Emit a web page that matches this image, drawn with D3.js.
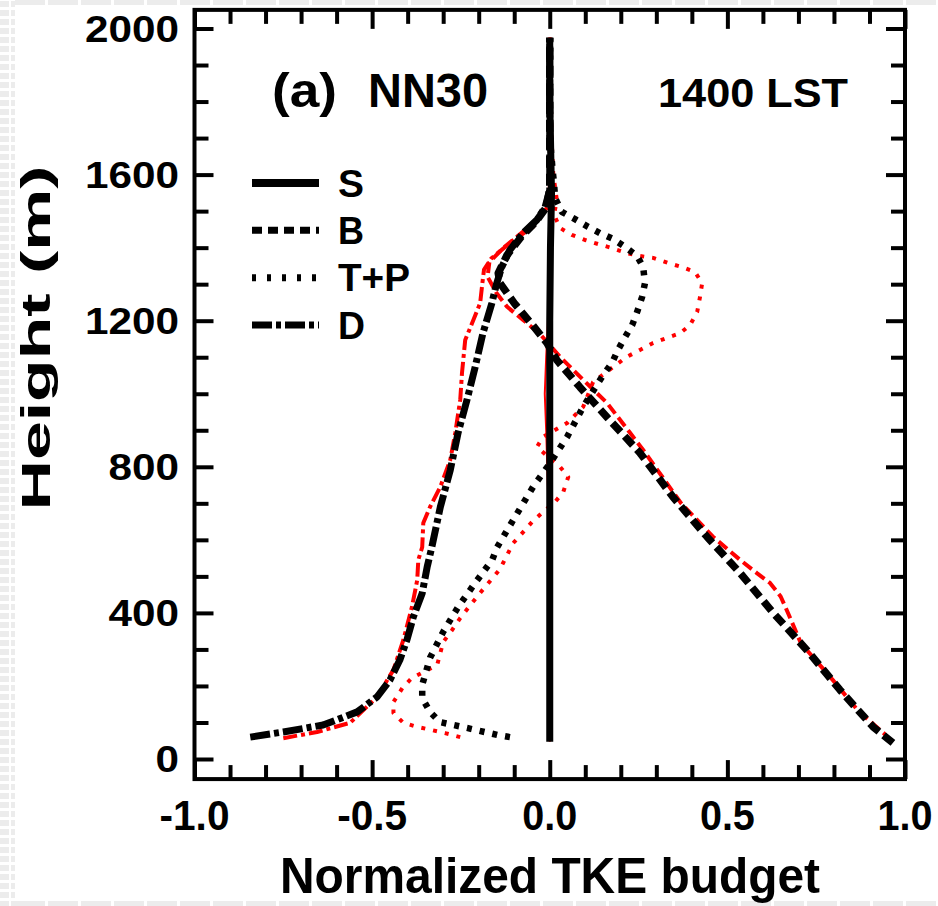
<!DOCTYPE html>
<html>
<head>
<meta charset="utf-8">
<script src="https://cdn.jsdelivr.net/npm/d3@7"></script>
<style>
  html, body { margin: 0; padding: 0; background: #fff; }
  svg { display: block; font-family: "Liberation Sans", Arial, Helvetica, sans-serif; font-weight: bold; }
</style>
</head>
<body>
<svg id="chart" width="938" height="906"></svg>
<script>
// ---- Axis ticks and labels ----
const xTickValues = [-1.0, -0.5, 0.0, 0.5, 1.0];
const xTickLabels = ["-1.0", "-0.5", "0.0", "0.5", "1.0"];
const yTickValues = [0, 400, 800, 1200, 1600, 2000];
const yTickLabels = ["0", "400", "800", "1200", "1600", "2000"];

// ---- Legend entries ----
const legendNames = ["S", "B", "T+P", "D"];

// ---- Profiles (normalized TKE budget terms vs height in m) ----
// Black: reference run; red: comparison run
const hS_black = [47, 300, 600, 900, 1200, 1400, 1500, 1550, 1600, 1700, 1800, 1975];
const vS_black = [0.0, 0.0, 0.0, 0.0, 0.0, 0.002, 0.004, 0.005, 0.004, 0.002, 0.0, 0.0];

const hS_red = [47, 400, 700, 900, 1000, 1100, 1300, 1500, 1560, 1650, 1800, 1975];
const vS_red = [0.0, 0.0, -0.004, -0.01, -0.014, -0.01, 0.0, 0.006, 0.01, 0.006, 0.002, 0.0];

const hB_black = [44, 88, 189, 298, 400, 509, 608, 717, 838, 936, 1018, 1092, 1139, 1190, 1248, 1303, 1330, 1380, 1430, 1470, 1510, 1560, 1700, 1975];
const vB_black = [0.966, 0.910, 0.817, 0.724, 0.629, 0.536, 0.443, 0.347, 0.254, 0.161, 0.085, 0.020, -0.008, -0.05, -0.10, -0.14, -0.145, -0.12, -0.08, -0.04, -0.01, 0.0, 0.0, 0.0];

const hB_red = [50, 71, 130, 216, 317, 408, 445, 482, 509, 545, 608, 700, 846, 893, 975, 1038, 1100, 1139, 1166, 1202, 1238, 1276, 1320, 1360, 1400, 1440, 1480, 1520, 1600, 1975];
const vB_red = [0.96, 0.94, 0.87, 0.797, 0.707, 0.667, 0.65, 0.62, 0.583, 0.536, 0.46, 0.37, 0.263, 0.226, 0.161, 0.094, 0.03, -0.005, -0.03, -0.075, -0.12, -0.15, -0.175, -0.17, -0.13, -0.08, -0.03, 0.0, 0.005, 0.0];

const hTP_black = [60, 66, 85, 101, 129, 167, 203, 277, 348, 416, 482, 545, 580, 654, 745, 810, 882, 964, 1051, 1084, 1120, 1155, 1188, 1224, 1265, 1303, 1347, 1377, 1402, 1424, 1440, 1457, 1478, 1498, 1536, 1577, 1612, 1648, 1700, 1975];
const vTP_black = [-0.112, -0.148, -0.233, -0.309, -0.337, -0.359, -0.359, -0.337, -0.300, -0.258, -0.210, -0.162, -0.148, -0.103, -0.047, 0.001, 0.049, 0.094, 0.150, 0.175, 0.192, 0.212, 0.232, 0.246, 0.260, 0.268, 0.263, 0.246, 0.212, 0.178, 0.141, 0.108, 0.071, 0.034, 0.015, 0.012, 0.008, 0.005, 0.0, 0.0];

const hTP_red = [60, 71, 79, 88, 99, 126, 156, 194, 222, 257, 320, 353, 386, 450, 520, 591, 621, 649, 676, 704, 731, 772, 800, 854, 882, 920, 964, 1032, 1073, 1101, 1120, 1139, 1153, 1166, 1188, 1224, 1265, 1303, 1333, 1347, 1358, 1372, 1377, 1385, 1399, 1410, 1421, 1435, 1454, 1490, 1530, 1600, 1700, 1975];
const vTP_red = [-0.252, -0.295, -0.331, -0.373, -0.412, -0.440, -0.440, -0.415, -0.388, -0.317, -0.300, -0.275, -0.252, -0.20, -0.14, -0.103, -0.075, -0.050, -0.019, 0.015, 0.038, 0.052, 0.029, -0.036, -0.019, 0.049, 0.094, 0.122, 0.178, 0.217, 0.254, 0.291, 0.330, 0.367, 0.395, 0.415, 0.423, 0.429, 0.409, 0.372, 0.333, 0.291, 0.254, 0.217, 0.175, 0.136, 0.099, 0.062, 0.029, 0.012, 0.02, 0.01, 0.005, 0.0];

const hD_black = [60, 74, 93, 129, 170, 216, 271, 326, 389, 454, 526, 580, 690, 791, 893, 983, 1073, 1166, 1248, 1300, 1347, 1394, 1440, 1476, 1511, 1558, 1700, 1975];
const vD_black = [-0.843, -0.75, -0.638, -0.542, -0.486, -0.450, -0.422, -0.402, -0.384, -0.359, -0.345, -0.332, -0.308, -0.280, -0.258, -0.233, -0.210, -0.188, -0.163, -0.15, -0.135, -0.112, -0.075, -0.036, -0.013, 0.0, 0.0, 0.0];

const hD_red = [57, 74, 99, 170, 244, 326, 416, 490, 545, 580, 646, 690, 745, 819, 893, 983, 1057, 1147, 1202, 1248, 1300, 1340, 1370, 1420, 1457, 1510, 1560, 1700, 1975];
const vD_red = [-0.75, -0.655, -0.562, -0.486, -0.44, -0.412, -0.388, -0.373, -0.37, -0.359, -0.356, -0.337, -0.308, -0.280, -0.266, -0.252, -0.247, -0.238, -0.215, -0.196, -0.19, -0.185, -0.165, -0.103, -0.047, -0.008, 0.0, 0.003, 0.0];

// ---- Scales ----
const svg = d3.select("#chart");
const x = d3.scaleLinear().domain([-1, 1]).range([194.5, 905]);
const y = d3.scaleLinear().domain([0, 2000]).range([759, 28.5]);
const yLimits = [-55, 2051];

// ---- Page border pattern (light grey bricks along the edges) ----
const deco = svg.append("g").attr("fill", "#ececec");
deco.selectAll("rect.l").data(d3.range(0, 906, 9)).join("rect")
  .attr("x", (d, i) => (i % 2 ? 0 : -6)).attr("y", d => d + 1)
  .attr("width", (d, i) => (i % 2 ? 9 : 15)).attr("height", 6);
deco.selectAll("rect.l2").data(d3.range(0, 906, 9)).join("rect")
  .attr("x", 11).attr("y", d => d + 1)
  .attr("width", 4).attr("height", 6);
deco.selectAll("rect.t").data(d3.range(15, 938, 33)).join("rect")
  .attr("x", d => d).attr("y", 0).attr("width", 30).attr("height", 5);
deco.selectAll("rect.b").data(d3.range(15, 938, 33)).join("rect")
  .attr("x", d => d).attr("y", 901).attr("width", 30).attr("height", 5);
svg.append("rect").attr("x", 15).attr("y", 5).attr("width", 923).attr("height", 896).attr("fill", "#fff");

// ---- Profile lines ----
const series = [
  { h: hS_red,    v: vS_red,    color: "#ff0000", width: 2,   dash: null },
  { h: hB_red,    v: vB_red,    color: "#ff0000", width: 4,   dash: "11,5" },
  { h: hTP_red,   v: vTP_red,   color: "#ff0000", width: 4,   dash: "4,8" },
  { h: hD_red,    v: vD_red,    color: "#ff0000", width: 4,   dash: "14,4,4,4" },
  { h: hTP_black, v: vTP_black, color: "#000000", width: 6.5, dash: "5,8" },
  { h: hD_black,  v: vD_black,  color: "#000000", width: 7,   dash: "20,4,5,4" },
  { h: hB_black,  v: vB_black,  color: "#000000", width: 7.5, dash: "12,6" },
  { h: hS_black,  v: vS_black,  color: "#000000", width: 7,   dash: null }
];

const line = d3.line().x(d => x(d[0])).y(d => y(d[1]));
const linesG = svg.append("g").attr("fill", "none");
series.forEach(s => {
  const pts = s.h.map((h, i) => [s.v[i], h]);
  linesG.append("path")
    .attr("d", line(pts))
    .attr("stroke", s.color)
    .attr("stroke-width", s.width)
    .attr("stroke-dasharray", s.dash)
    .attr("stroke-linecap", "butt")
    .attr("stroke-linejoin", "round");
});

// ---- Inward ticks on all four sides ----
const minorX = d3.range(-10, 11).map(i => i / 10).filter(v => Math.abs(v * 2 - Math.round(v * 2)) > 1e-6);
const minorY = d3.range(0, 2001, 100).filter(v => v % 400 !== 0);
const yBot = y(yLimits[0]), yTop = y(yLimits[1]);
const xL = x(-1), xR = x(1);

function styleAxis(g) {
  g.select(".domain").remove();
  g.selectAll("text").remove();
  g.selectAll("line").attr("stroke", "#000").attr("stroke-width", 4);
}
svg.append("g").attr("transform", `translate(0,${yBot})`)
  .call(d3.axisBottom(x).tickValues(minorX).tickSize(-14)).call(styleAxis);
svg.append("g").attr("transform", `translate(0,${yBot})`)
  .call(d3.axisBottom(x).tickValues(xTickValues).tickSize(-19)).call(styleAxis);
svg.append("g").attr("transform", `translate(0,${yTop})`)
  .call(d3.axisTop(x).tickValues(minorX).tickSize(-14)).call(styleAxis);
svg.append("g").attr("transform", `translate(0,${yTop})`)
  .call(d3.axisTop(x).tickValues(xTickValues).tickSize(-19)).call(styleAxis);
svg.append("g").attr("transform", `translate(${xL},0)`)
  .call(d3.axisLeft(y).tickValues(minorY).tickSize(-14)).call(styleAxis);
svg.append("g").attr("transform", `translate(${xL},0)`)
  .call(d3.axisLeft(y).tickValues(yTickValues).tickSize(-19)).call(styleAxis);
svg.append("g").attr("transform", `translate(${xR},0)`)
  .call(d3.axisRight(y).tickValues(minorY).tickSize(-14)).call(styleAxis);
svg.append("g").attr("transform", `translate(${xR},0)`)
  .call(d3.axisRight(y).tickValues(yTickValues).tickSize(-19)).call(styleAxis);

// ---- Frame ----
svg.append("rect")
  .attr("x", xL).attr("y", yTop)
  .attr("width", xR - xL).attr("height", yBot - yTop)
  .attr("fill", "none").attr("stroke", "#000").attr("stroke-width", 4);

// ---- Tick labels ----
const charW = c => (c === "." ? 11 : c === "-" ? 15 : 22);
svg.append("g").selectAll("text").data(xTickValues).join("text")
  .attr("x", d => x(d)).attr("y", 830)
  .attr("text-anchor", "middle").attr("font-size", 43)
  .attr("textLength", (d, i) => d3.sum(xTickLabels[i].split(""), charW))
  .attr("lengthAdjust", "spacingAndGlyphs")
  .text((d, i) => xTickLabels[i]);

svg.append("g").selectAll("text").data(yTickValues).join("text")
  .attr("x", (d, i) => 179 - yTickLabels[i].length * 23.5)
  .attr("y", d => y(d) + 13)
  .attr("font-size", 36)
  .attr("textLength", (d, i) => yTickLabels[i].length * 23.5)
  .attr("lengthAdjust", "spacingAndGlyphs")
  .text((d, i) => yTickLabels[i]);

// ---- Axis titles ----
svg.append("text")
  .attr("x", 550).attr("y", 893).attr("text-anchor", "middle")
  .attr("font-size", 50).attr("textLength", 540).attr("lengthAdjust", "spacingAndGlyphs")
  .text("Normalized TKE budget");

svg.append("text")
  .attr("transform", "translate(50,338) rotate(-90)")
  .attr("text-anchor", "middle")
  .attr("font-size", 41).attr("textLength", 345).attr("lengthAdjust", "spacingAndGlyphs")
  .text("Height (m)");

// ---- Panel annotations ----
svg.append("text").attr("x", 272).attr("y", 107).attr("font-size", 49)
  .attr("textLength", 65).attr("lengthAdjust", "spacingAndGlyphs").text("(a)");
svg.append("text").attr("x", 368).attr("y", 107).attr("font-size", 49)
  .attr("textLength", 120).attr("lengthAdjust", "spacingAndGlyphs").text("NN30");
svg.append("text").attr("x", 658).attr("y", 107).attr("font-size", 41)
  .attr("textLength", 190).attr("lengthAdjust", "spacingAndGlyphs").text("1400 LST");

// ---- Legend ----
const legendStyles = [
  { width: 8, dash: null },
  { width: 7, dash: "10,6" },
  { width: 7, dash: "4,11" },
  { width: 7, dash: "20,4,5,4" }
];
const legendTextW = [26, 26, 72, 27];
const legY = d3.scalePoint().domain(legendNames).range([183, 325]);
const leg = svg.append("g");
legendNames.forEach((name, i) => {
  leg.append("line")
    .attr("x1", 252).attr("x2", 319)
    .attr("y1", legY(name)).attr("y2", legY(name))
    .attr("stroke", "#000").attr("stroke-width", legendStyles[i].width)
    .attr("stroke-dasharray", legendStyles[i].dash);
  leg.append("text")
    .attr("x", 338).attr("y", legY(name) + 13.5)
    .attr("font-size", 38)
    .attr("textLength", legendTextW[i]).attr("lengthAdjust", "spacingAndGlyphs")
    .text(name);
});
</script>
</body>
</html>
